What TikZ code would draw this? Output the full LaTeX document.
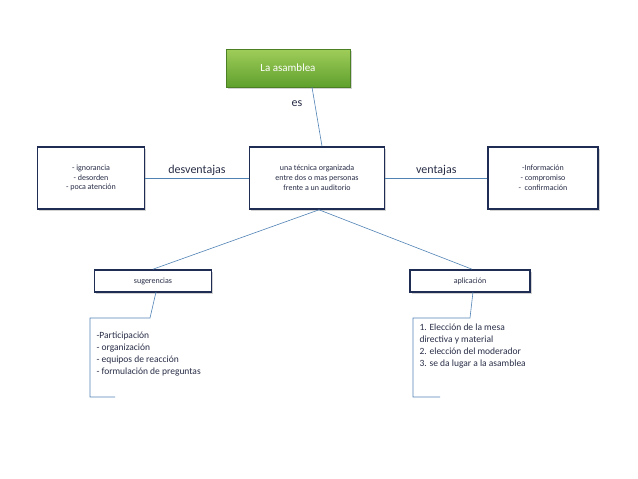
\documentclass[tikz,border=0pt]{standalone}
\usepackage{fontspec}
\setmainfont{Carlito}
\usetikzlibrary{shadows,calc}
\definecolor{navy}{RGB}{31,45,85}
\definecolor{lnk}{RGB}{80,130,180}
\definecolor{txt}{RGB}{40,45,70}
\definecolor{gtop}{RGB}{160,205,90}
\definecolor{gbot}{RGB}{95,160,45}
\tikzset{
 box/.style={draw=navy,line width=1.6pt,fill=white,drop shadow={opacity=0.35,shadow xshift=1.5pt,shadow yshift=-1.5pt},align=center,font=\fontsize{8}{9.8}\selectfont,text=txt,inner sep=0},
 lnk/.style={draw=lnk,line width=0.6pt},
 lbl/.style={font=\fontsize{12}{14}\selectfont,text=txt},
 lst/.style={align=left,font=\fontsize{9.5}{12.2}\selectfont,text=txt,anchor=north west}
}
\begin{document}
\begin{tikzpicture}[x=1pt,y=-1pt]
\useasboundingbox (0,0) rectangle (638,479);
\node[draw=gbot!80!black,top color=gtop,bottom color=gbot,drop shadow={opacity=0.35},minimum width=124,minimum height=38,text=white,font=\fontsize{11}{13}\selectfont,inner sep=0] (top) at (288,68) {La asamblea};
\node[box,minimum width=135,minimum height=62] (c) at (317,178) {una técnica organizada\\entre dos o mas personas\\frente a un auditorio};
\node[box,minimum width=107,minimum height=62] (l) at (91,178) {- ignorancia\\- desorden\\- poca atención};
\node[box,minimum width=110,minimum height=62] (r) at (543,178) {-Información\\- compromiso\\-\ \ confirmación};
\node[box,minimum width=117,minimum height=22] (s) at (153,281) {sugerencias};
\node[box,minimum width=120,minimum height=22] (a) at (470,281) {aplicación};
\draw[lnk] ($(top.south)+(24,0)$) -- ($(c.north)+(5,0)$);
\draw[lnk] (l) -- node[lbl,above=-1pt]{desventajas} (c);
\draw[lnk] (c) -- node[lbl,above=-1pt]{ventajas} (r);
\node[lbl] (es) at (297,104) {es};
\coordinate (cb) at ($(c.south)+(2,0)$);
\draw[lnk] (cb) -- (s.north);
\draw[lnk] (cb) -- ($(a.north)+(2,0)$);
\coordinate (ls1) at (156,292); \coordinate (ls2) at (150,318);
\coordinate (lb1) at (90,318); \coordinate (lb2) at (90,397); \coordinate (lb3) at (115,397);
\draw[lnk] (ls1) -- (ls2) -- (lb1) -- (lb2) -- (lb3);
\coordinate (rs1) at (473,292); \coordinate (rs2) at (470,318);
\coordinate (rb1) at (413,318); \coordinate (rb2) at (413,397); \coordinate (rb3) at (440,397);
\draw[lnk] (rs1) -- (rs2) -- (rb1) -- (rb2) -- (rb3);
\node[lst] (lt) at (93,328) {-Participación\\- organización\\- equipos de reacción\\- formulación de preguntas};
\node[lst] (rt) at (416,320) {1. Elección de la mesa\\directiva y material\\2. elección del moderador\\3. se da lugar a la asamblea};
\end{tikzpicture}
\end{document}
